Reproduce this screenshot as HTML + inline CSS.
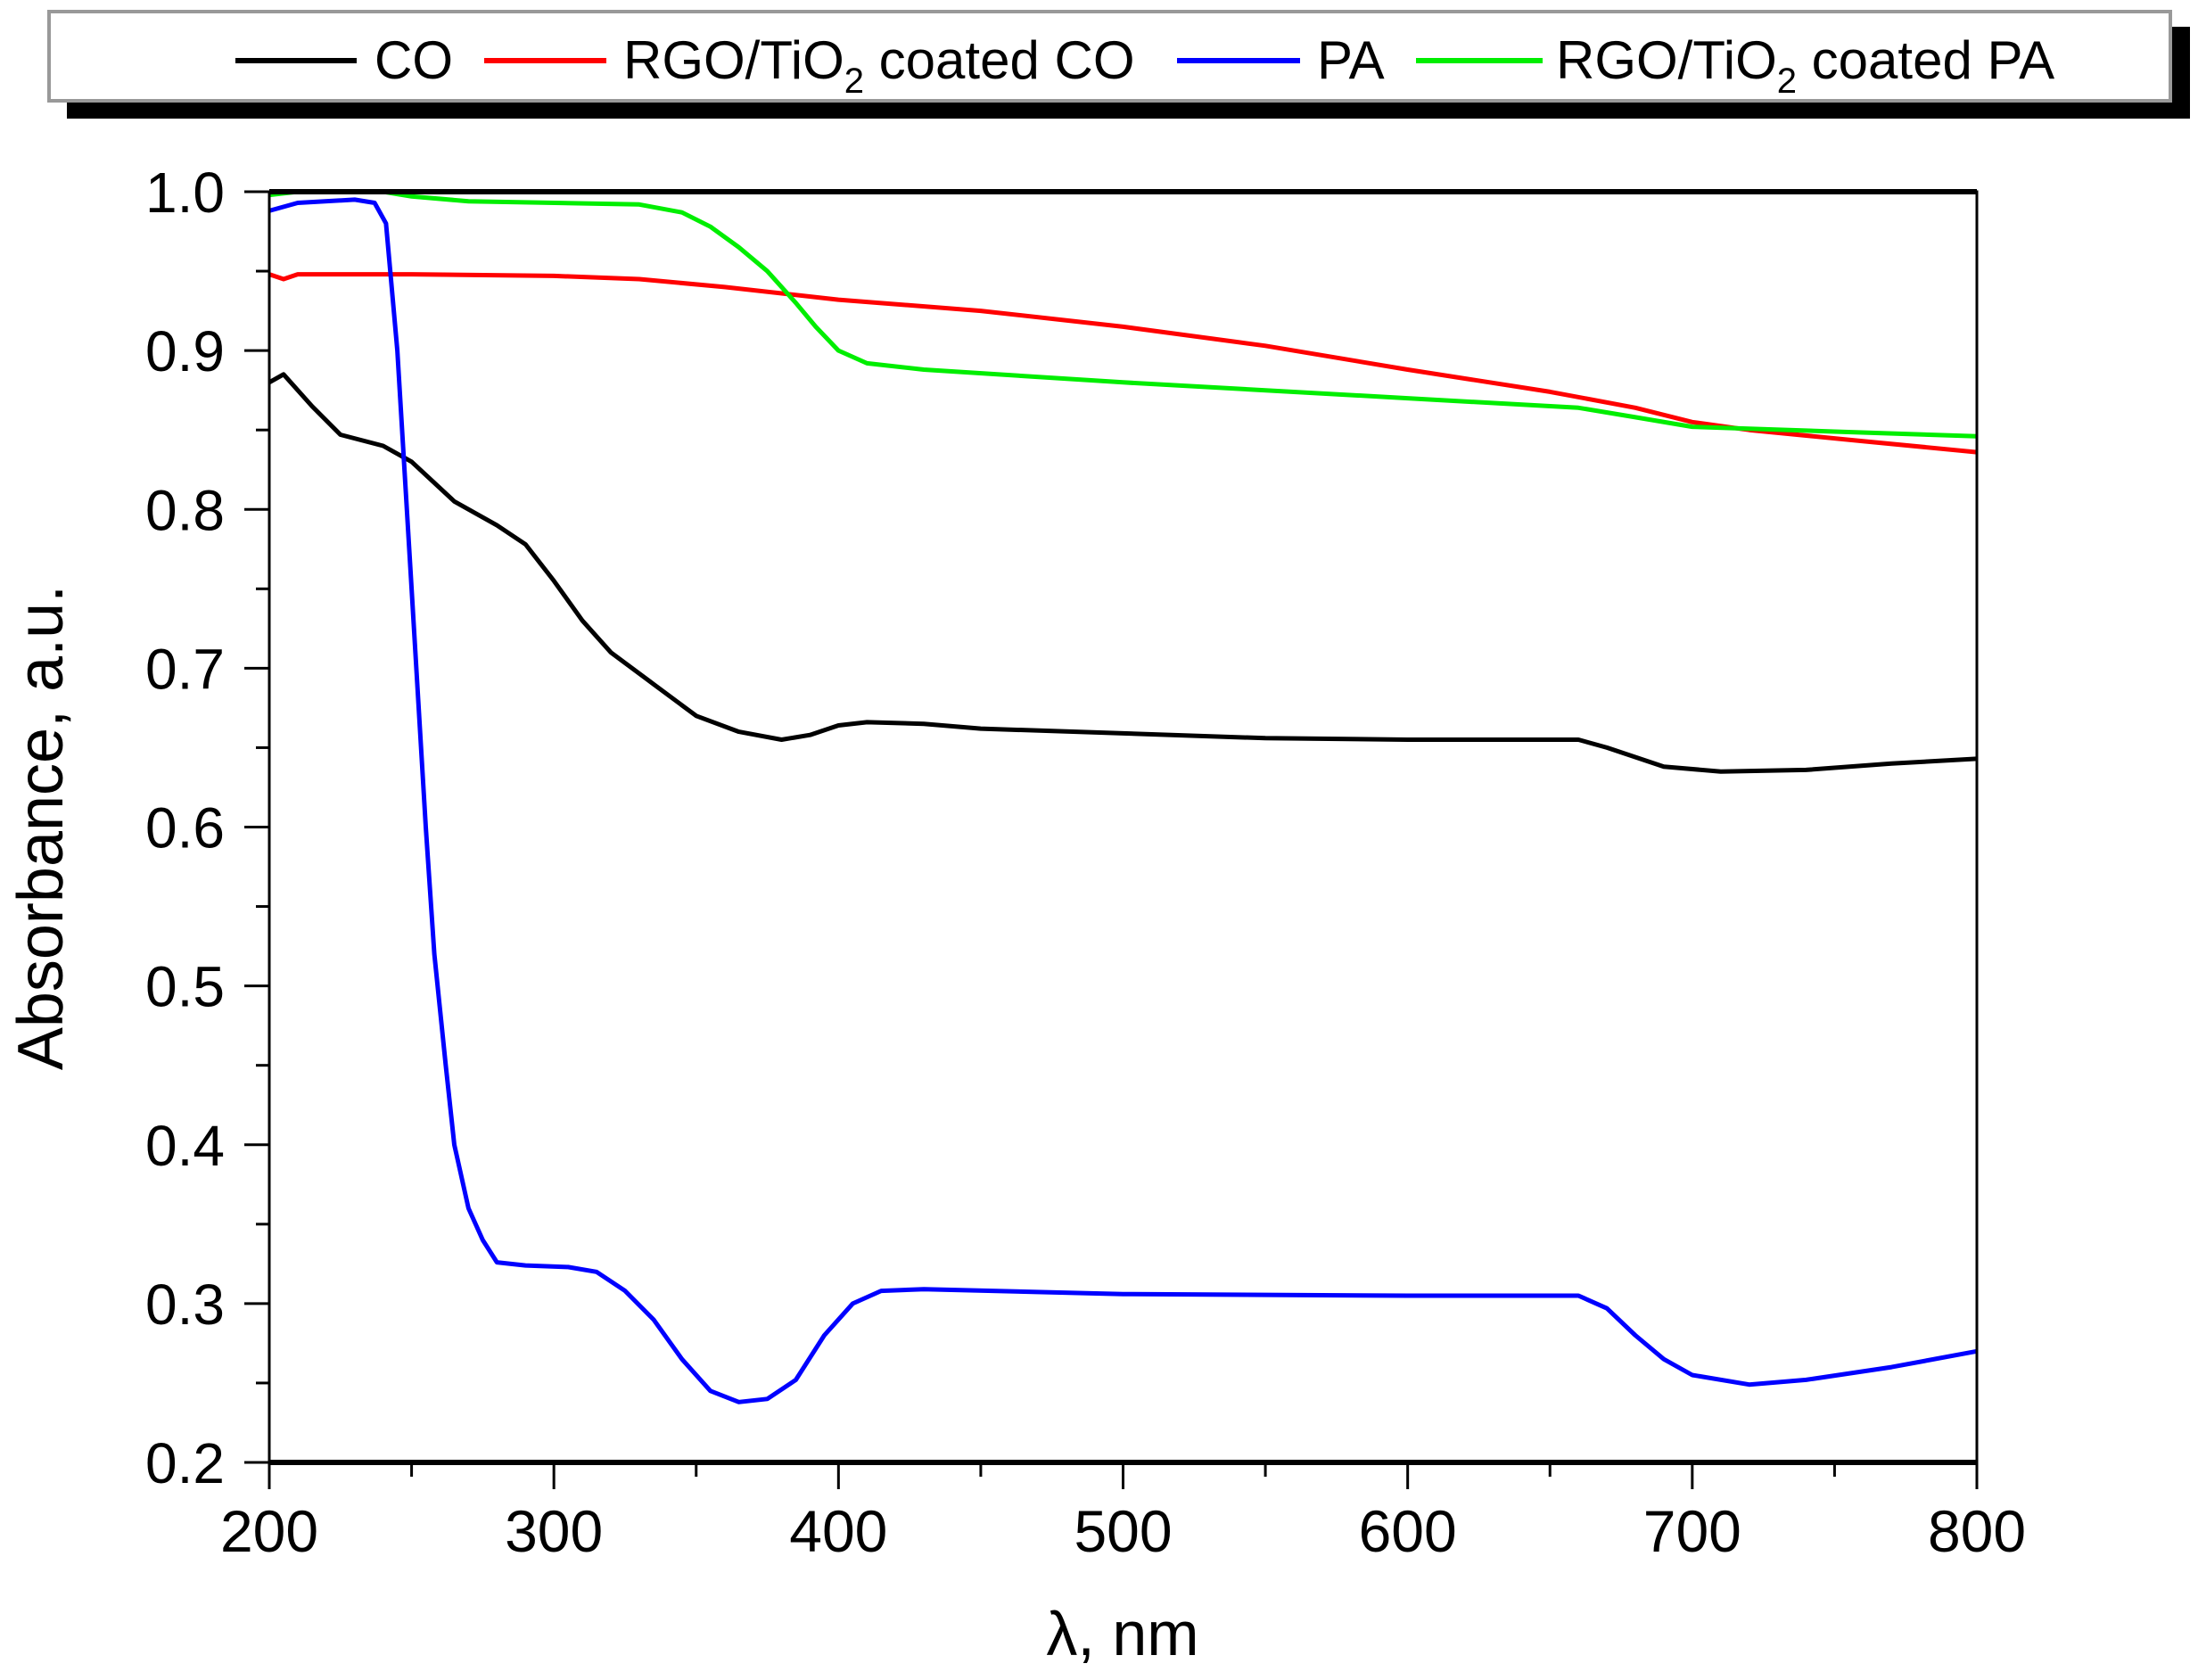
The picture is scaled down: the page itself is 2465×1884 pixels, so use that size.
<!DOCTYPE html>
<html><head><meta charset="utf-8"><style>
html,body{margin:0;padding:0;background:#fff}
svg text{font-family:"Liberation Sans",Arial,sans-serif;fill:#000}
</style></head><body>
<svg id="s" width="2465" height="1879" xmlns="http://www.w3.org/2000/svg">
<rect x="75" y="30" width="2381" height="103" fill="#000"/>
<rect x="55" y="13" width="2379" height="100" fill="#fff" stroke="#999" stroke-width="4"/>
<g stroke-width="6">
<line x1="264" y1="68" x2="400" y2="68" stroke="#000"/>
<line x1="543" y1="68" x2="680" y2="68" stroke="#ff0000"/>
<line x1="1320" y1="68" x2="1458" y2="68" stroke="#0000ff"/>
<line x1="1588" y1="68" x2="1730" y2="68" stroke="#00ee00"/>
</g>
<g font-size="60">
<text x="420" y="88" textLength="88" lengthAdjust="spacingAndGlyphs">CO</text>
<text x="699" y="88">RGO/TiO<tspan font-size="40" dy="16">2</tspan><tspan dy="-16"> coated CO</tspan></text>
<text x="1477" y="88">PA</text>
<text x="1745" y="88">RGO/TiO<tspan font-size="40" dy="16">2</tspan><tspan dy="-16"> coated PA</tspan></text>
</g>
<g id="ax"></g>
<g id="data" fill="none" stroke-width="5" stroke-linejoin="round"></g>
<rect x="302" y="215" width="1915" height="1425" fill="none" stroke="#000" stroke-width="3"/>
<line x1="302" y1="215" x2="2217" y2="215" stroke="#000" stroke-width="6"/>
<line x1="302" y1="1640" x2="2217" y2="1640" stroke="#000" stroke-width="6"/>
<text x="1259" y="1856" font-size="70" text-anchor="middle">λ, nm</text>
<text transform="translate(70,928) rotate(-90)" font-size="72" text-anchor="middle">Absorbance, a.u.</text>
</svg>
<script>
var L=302,R=2217,T=215,B=1640;
function X(v){return L+(v-200)/600*(R-L)}
function Y(v){return B-(v-0.2)/0.8*(B-T)}
var ax=document.getElementById('ax'),h='';
for(var v=200;v<=800;v+=50){var x=X(v),big=v%100==0;
h+='<line x1="'+x+'" y1="'+B+'" x2="'+x+'" y2="'+(B+(big?30:16))+'" stroke="#000" stroke-width="3"/>';
if(big)h+='<text x="'+x+'" y="1740" font-size="66" text-anchor="middle">'+v+'</text>';}
for(var i=0;i<=16;i++){var v=0.2+i*0.05,y=Y(v),big=i%2==0;
h+='<line x1="'+(L-(big?28:15))+'" y1="'+y+'" x2="'+L+'" y2="'+y+'" stroke="#000" stroke-width="3"/>';
if(big)h+='<text x="252" y="'+(y+23)+'" font-size="64" text-anchor="end">'+v.toFixed(1)+'</text>';}
ax.innerHTML=h;
var S={
"#000":[200,.88,205,.885,215,.865,225,.847,240,.84,250,.83,265,.805,280,.79,290,.778,300,.755,310,.73,320,.71,335,.69,350,.67,365,.66,380,.655,390,.658,400,.664,410,.666,430,.665,450,.662,500,.659,550,.656,600,.655,660,.655,670,.65,690,.638,710,.635,740,.636,770,.64,800,.643],
"#ff0000":[200,.948,205,.945,210,.948,250,.948,300,.947,330,.945,360,.94,400,.932,450,.925,500,.915,550,.903,600,.888,650,.874,680,.864,700,.855,720,.85,760,.843,800,.836],
"#0000ff":[200,.988,210,.993,230,.995,237,.993,241,.98,245,.9,250,.75,255,.6,258,.52,262,.45,265,.4,270,.36,275,.34,280,.326,290,.324,305,.323,315,.32,325,.308,335,.29,345,.265,355,.245,365,.238,375,.24,385,.252,395,.28,405,.3,415,.308,430,.309,500,.306,600,.305,660,.305,670,.297,680,.28,690,.265,700,.255,720,.249,740,.252,770,.26,800,.27],
"#00ee00":[200,.998,210,1.0,240,1.0,250,.997,270,.994,330,.992,345,.987,355,.978,365,.965,375,.95,385,.93,392,.915,400,.9,410,.892,430,.888,500,.88,600,.87,660,.864,680,.858,700,.852,750,.849,800,.846]};
var d='';
for(var c in S){var a=S[c],p='';for(var i=0;i<a.length;i+=2)p+=(i?'L':'M')+X(a[i]).toFixed(1)+','+Y(a[i+1]).toFixed(1);
d+='<path d="'+p+'" stroke="'+c+'"/>';}
document.getElementById('data').innerHTML=d;
</script>
</body></html>
